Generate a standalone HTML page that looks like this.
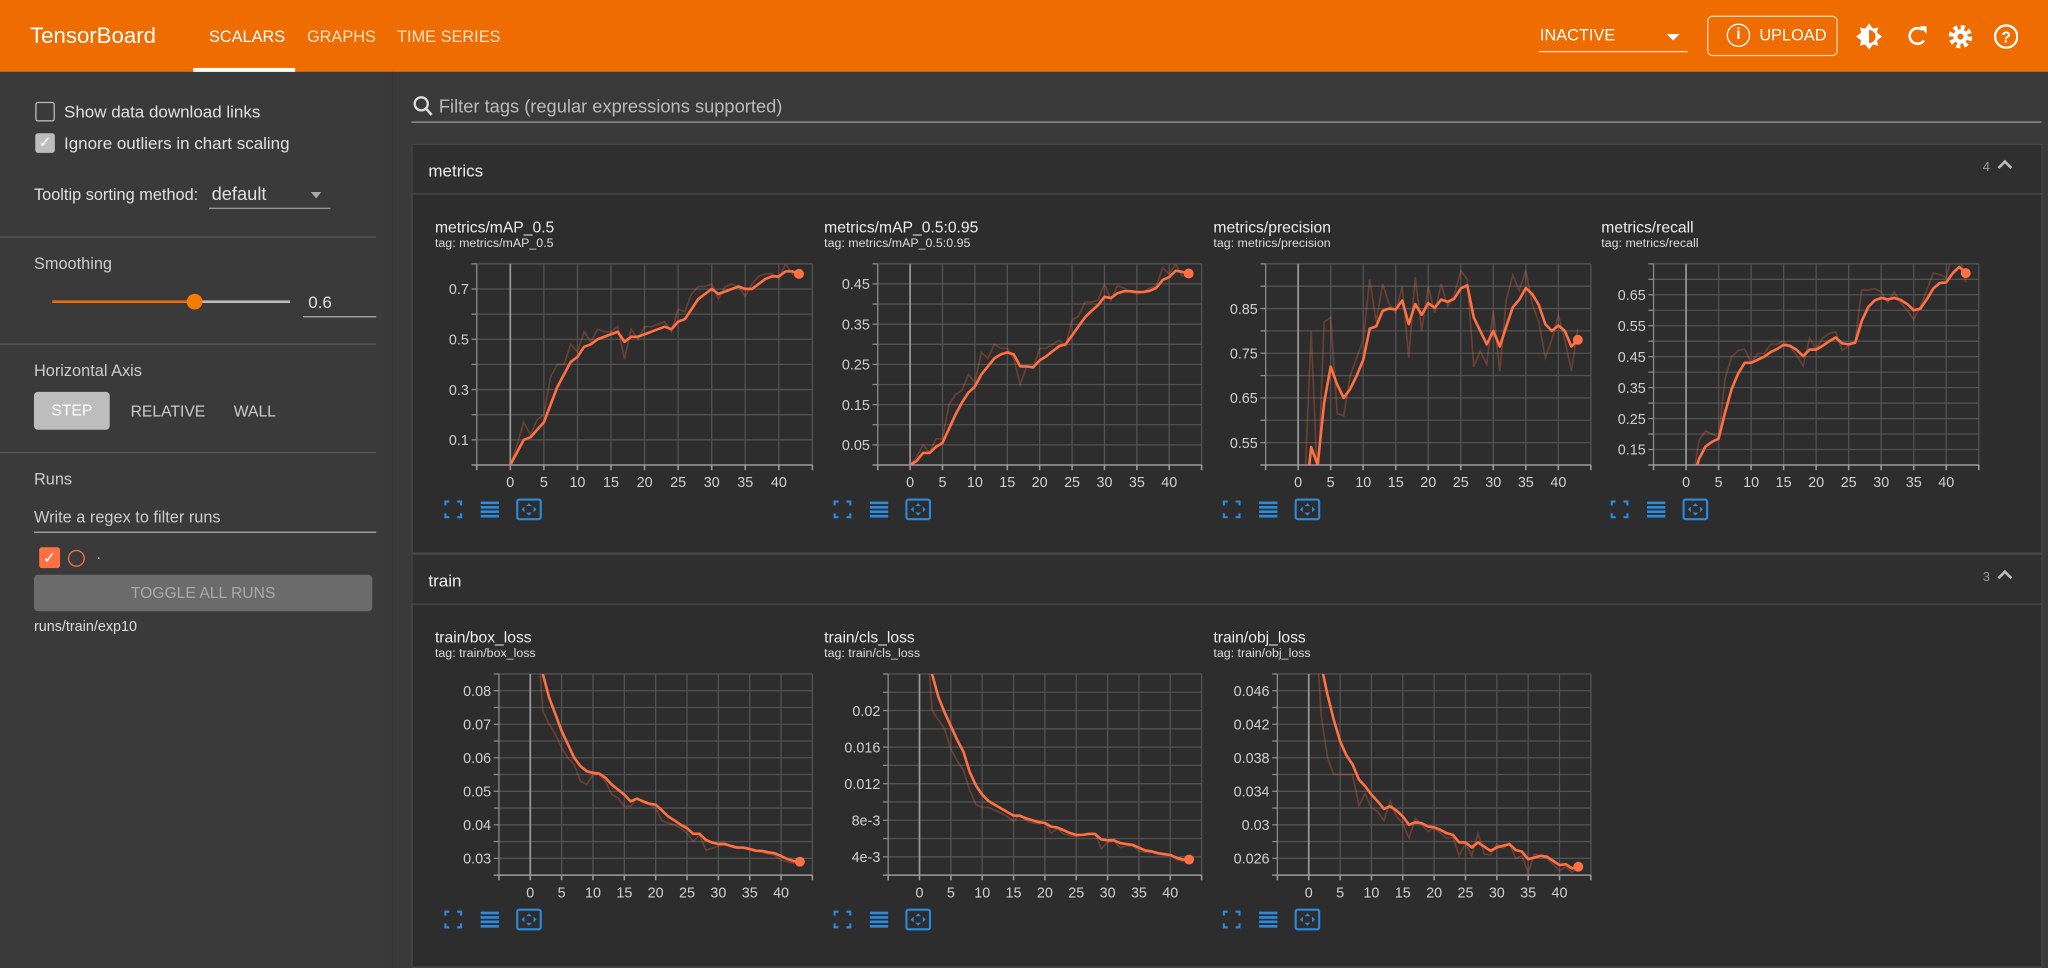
<!DOCTYPE html>
<html><head><meta charset="utf-8">
<style>
*{box-sizing:border-box;margin:0;padding:0}
html,body{width:2048px;height:968px;overflow:hidden;background:#3a3a3a;font-family:"Liberation Sans",sans-serif}
#wrap{position:absolute;left:0;top:0;width:1568px;height:741px;transform:scale(1.306122);transform-origin:0 0;background:#3a3a3a;color:#e6e6e6}
.a{position:absolute;white-space:nowrap}
.hdr{left:0;top:0;width:1568px;height:55px;background:#ef6c00}
.tab{font-size:12.5px;color:#ffe0c8;top:21px}
.sb{font-size:13px;color:#e0e0e0}
.div{height:1px;background:#555;left:0;width:288px}
.card{border:1px solid #4a4a4a;background:#2d2d2d}
.ch{background:#2f2f2f;border:1px solid #444}
.ttl{font-size:12px;color:#eee}
.tag{font-size:9.5px;color:#ddd}
</style></head><body>
<div id="wrap">
<div class="a hdr"></div>
<div class="a" style="left:23px;top:18px;font-size:17px;color:#fff">TensorBoard</div>
<div class="a tab" style="left:160px;color:#fff">SCALARS</div>
<div class="a" style="left:148px;top:52px;width:78px;height:3px;background:#fff"></div>
<div class="a tab" style="left:235px">GRAPHS</div>
<div class="a tab" style="left:304px">TIME SERIES</div>
<div class="a" style="left:1179px;top:20px;font-size:12.5px;color:#fff">INACTIVE</div>
<div class="a" style="left:1276px;top:26px;width:0;height:0;border-left:5px solid transparent;border-right:5px solid transparent;border-top:5px solid #fff"></div>
<div class="a" style="left:1178px;top:39px;width:114px;height:1px;background:#ffd9b8"></div>
<div class="a" style="left:1307px;top:12px;width:100px;height:31px;border:1px solid #ffd1ad;border-radius:4px"></div>
<div class="a" style="left:1322px;top:18px;width:18px;height:18px;border:1.6px solid #fff;border-radius:50%;color:#fff;font-size:12px;text-align:center;line-height:15px;font-weight:bold">i</div>
<div class="a" style="left:1347px;top:20px;font-size:12.5px;color:#fff">UPLOAD</div>
<svg class="a" style="left:1420px;top:16px" width="125" height="24">
<g><circle cx="11" cy="12" r="7" fill="#fff"/><polygon points="11,2 14,6 18,5 17,9 21,12 17,15 18,19 14,18 11,22 8,18 4,19 5,15 1,12 5,9 4,5 8,6" fill="#fff"/><path d="M11 7 A5 5 0 0 1 11 17Z" fill="#ef6c00"/></g>
<g><path d="M52 7 A6 6 0 1 0 53 15" fill="none" stroke="#fff" stroke-width="2"/><polygon points="50,4 55,4 55,10" fill="#fff"/></g>
<g><circle cx="81" cy="12" r="7" fill="none" stroke="#fff" stroke-width="4" stroke-dasharray="3 2.5"/><circle cx="81" cy="12" r="5.5" fill="#fff"/><circle cx="81" cy="12" r="2.3" fill="#ef6c00"/></g>
<g><circle cx="116" cy="12" r="8.5" fill="none" stroke="#fff" stroke-width="1.8"/><text x="116" y="16.5" font-size="12" fill="#fff" text-anchor="middle" font-family="Liberation Sans" font-weight="bold">?</text></g>
</svg>

<!-- sidebar -->
<div class="a" style="left:300px;top:55px;width:1px;height:686px;background:#333"></div>
<div class="a" style="left:27px;top:78px;width:15px;height:15px;border:1.5px solid #bbb;border-radius:2px"></div>
<div class="a sb" style="left:49px;top:78px">Show data download links</div>
<div class="a" style="left:27px;top:102px;width:15px;height:15px;background:#bdbdbd;border-radius:2px;color:#fff;font-size:12px;text-align:center;line-height:15px">✓</div>
<div class="a sb" style="left:49px;top:102px">Ignore outliers in chart scaling</div>
<div class="a sb" style="left:26px;top:142px;font-size:12.5px">Tooltip sorting method:</div>
<div class="a sb" style="left:162px;top:140px;font-size:14px">default</div>
<div class="a" style="left:238px;top:147px;width:0;height:0;border-left:4.5px solid transparent;border-right:4.5px solid transparent;border-top:5px solid #aaa"></div>
<div class="a" style="left:160px;top:159px;width:93px;height:1px;background:#999"></div>
<div class="a div" style="top:181px"></div>
<div class="a sb" style="left:26px;top:195px;font-size:12.5px;color:#ccc">Smoothing</div>
<div class="a" style="left:40px;top:230px;width:109px;height:2px;background:#ef6c00"></div>
<div class="a" style="left:149px;top:230px;width:73px;height:2px;background:#bbb"></div>
<div class="a" style="left:143px;top:225px;width:12px;height:12px;border-radius:50%;background:#f57c00"></div>
<div class="a sb" style="left:236px;top:224px">0.6</div>
<div class="a" style="left:232px;top:242px;width:56px;height:1px;background:#aaa"></div>
<div class="a div" style="top:263px"></div>
<div class="a sb" style="left:26px;top:277px;font-size:12.5px;color:#ccc">Horizontal Axis</div>
<div class="a" style="left:26px;top:300px;width:58px;height:29px;background:#bdbdbd;border-radius:3px;color:#fff;font-size:12px;text-align:center;line-height:29px">STEP</div>
<div class="a sb" style="left:100px;top:308px;font-size:12px;color:#ccc">RELATIVE</div>
<div class="a sb" style="left:179px;top:308px;font-size:12px;color:#ccc">WALL</div>
<div class="a div" style="top:346px"></div>
<div class="a sb" style="left:26px;top:360px;font-size:12.5px;color:#ccc">Runs</div>
<div class="a sb" style="left:26px;top:389px;font-size:12.5px;color:#ccc">Write a regex to filter runs</div>
<div class="a" style="left:26px;top:407px;width:262px;height:1px;background:#aaa"></div>
<div class="a" style="left:30px;top:419px;width:16px;height:16px;background:#ff7043;border-radius:2px;color:#fff;font-size:12px;text-align:center;line-height:16px">✓</div>
<div class="a" style="left:52px;top:421px;width:13px;height:13px;border:1.5px solid #ff7043;border-radius:50%"></div>
<div class="a sb" style="left:74px;top:419px;font-size:11px">.</div>
<div class="a" style="left:26px;top:440px;width:259px;height:28px;background:#6b6b6b;border-radius:3px;color:#aaa;font-size:12px;text-align:center;line-height:28px">TOGGLE ALL RUNS</div>
<div class="a sb" style="left:26px;top:474px;font-size:11px;color:#ddd">runs/train/exp10</div>

<!-- main -->
<svg class="a" style="left:316px;top:73px" width="16" height="18"><circle cx="6.5" cy="6.5" r="5" fill="none" stroke="#ddd" stroke-width="1.8"/><line x1="10" y1="10" x2="14.5" y2="15" stroke="#ddd" stroke-width="2"/></svg>
<div class="a" style="left:336px;top:73px;font-size:14px;color:#bbb">Filter tags (regular expressions supported)</div>
<div class="a" style="left:315px;top:93px;width:1248px;height:1px;background:#9a9a9a"></div>

<div class="a ch" style="left:315px;top:110px;width:1249px;height:39px"></div>
<div class="a" style="left:328px;top:123px;font-size:13px;color:#eee">metrics</div>
<div class="a" style="left:1518px;top:123px;font-size:10px;color:#999">4</div>
<div class="a" style="left:1531px;top:124px;width:8px;height:8px;border-left:2px solid #bbb;border-top:2px solid #bbb;transform:rotate(45deg)"></div>
<div class="a card" style="left:315px;top:148px;width:1249px;height:276px"></div>

<div class="a ch" style="left:315px;top:424px;width:1249px;height:39px"></div>
<div class="a" style="left:328px;top:437px;font-size:13px;color:#eee">train</div>
<div class="a" style="left:1518px;top:437px;font-size:10px;color:#999">3</div>
<div class="a" style="left:1531px;top:438px;width:8px;height:8px;border-left:2px solid #bbb;border-top:2px solid #bbb;transform:rotate(45deg)"></div>
<div class="a card" style="left:315px;top:462px;width:1249px;height:279px"></div>

<div class="a ttl" style="left:333px;top:167px">metrics/mAP_0.5</div>
<div class="a tag" style="left:333px;top:181px">tag: metrics/mAP_0.5</div>
<div class="a ttl" style="left:631px;top:167px">metrics/mAP_0.5:0.95</div>
<div class="a tag" style="left:631px;top:181px">tag: metrics/mAP_0.5:0.95</div>
<div class="a ttl" style="left:929px;top:167px">metrics/precision</div>
<div class="a tag" style="left:929px;top:181px">tag: metrics/precision</div>
<div class="a ttl" style="left:1226px;top:167px">metrics/recall</div>
<div class="a tag" style="left:1226px;top:181px">tag: metrics/recall</div>
<div class="a ttl" style="left:333px;top:481px">train/box_loss</div>
<div class="a tag" style="left:333px;top:495px">tag: train/box_loss</div>
<div class="a ttl" style="left:631px;top:481px">train/cls_loss</div>
<div class="a tag" style="left:631px;top:495px">tag: train/cls_loss</div>
<div class="a ttl" style="left:929px;top:481px">train/obj_loss</div>
<div class="a tag" style="left:929px;top:495px">tag: train/obj_loss</div>

<svg id="plots" class="a" style="left:0;top:0" width="1568" height="741"></svg>
</div>
<script>
const steps = [0,1,2,3,4,5,6,7,8,9,10,11,12,13,14,15,16,17,18,19,20,21,22,23,24,25,26,27,28,29,30,31,32,33,34,35,36,37,38,39,40,41,42,43];
const xTicks = [0,5,10,15,20,25,30,35,40];

const mapSmooth = [0,0.05,0.1,0.11,0.14,0.17,0.24,0.31,0.36,0.41,0.43,0.47,0.48,0.5,0.51,0.52,0.53,0.49,0.51,0.51,0.52,0.53,0.54,0.55,0.54,0.57,0.58,0.62,0.66,0.68,0.7,0.68,0.69,0.7,0.71,0.7,0.7,0.72,0.74,0.75,0.75,0.77,0.77,0.76];
const mapRaw = [0,0.08,0.17,0.12,0.18,0.2,0.35,0.4,0.4,0.48,0.45,0.53,0.49,0.54,0.53,0.53,0.55,0.42,0.54,0.5,0.55,0.55,0.56,0.57,0.53,0.62,0.61,0.68,0.71,0.71,0.72,0.66,0.71,0.72,0.71,0.67,0.72,0.75,0.76,0.76,0.74,0.8,0.76,0.74];
const mapTicks = [0.1,0.3,0.5,0.7];

const map95Smooth = [0,0.01,0.03,0.03,0.045,0.055,0.09,0.125,0.155,0.18,0.195,0.225,0.245,0.265,0.275,0.28,0.275,0.245,0.245,0.243,0.26,0.27,0.283,0.295,0.3,0.322,0.345,0.367,0.383,0.397,0.418,0.415,0.427,0.432,0.432,0.43,0.43,0.433,0.44,0.46,0.467,0.483,0.48,0.476];
const map95Raw = [0,0.02,0.05,0.03,0.065,0.065,0.15,0.175,0.185,0.225,0.205,0.28,0.265,0.3,0.29,0.29,0.265,0.2,0.245,0.24,0.29,0.29,0.3,0.31,0.295,0.36,0.37,0.405,0.405,0.41,0.45,0.41,0.445,0.44,0.43,0.425,0.43,0.44,0.445,0.49,0.475,0.5,0.47,0.47];
const map95Ticks = [0.05,0.15,0.25,0.35,0.45];

const precSmooth = [0.3,0.4,0.54,0.5,0.64,0.72,0.68,0.65,0.67,0.7,0.735,0.805,0.81,0.845,0.85,0.848,0.868,0.815,0.86,0.836,0.862,0.852,0.87,0.865,0.872,0.895,0.902,0.83,0.8,0.77,0.8,0.765,0.81,0.853,0.87,0.896,0.882,0.858,0.815,0.8,0.812,0.8,0.765,0.78];
const precRaw = [0.3,0.45,0.8,0.45,0.82,0.83,0.615,0.61,0.7,0.74,0.78,0.915,0.82,0.905,0.86,0.84,0.9,0.74,0.92,0.8,0.9,0.84,0.905,0.855,0.88,0.935,0.915,0.72,0.755,0.725,0.845,0.71,0.87,0.925,0.89,0.935,0.86,0.82,0.74,0.78,0.835,0.78,0.71,0.805];
const precTicks = [0.55,0.65,0.75,0.85];

const recSmooth = [0,0.05,0.12,0.16,0.175,0.185,0.27,0.345,0.395,0.43,0.43,0.44,0.45,0.465,0.475,0.488,0.485,0.472,0.452,0.473,0.473,0.485,0.5,0.512,0.493,0.49,0.495,0.565,0.61,0.632,0.64,0.635,0.64,0.633,0.62,0.6,0.605,0.635,0.67,0.688,0.69,0.72,0.74,0.72];
const recRaw = [0,0.05,0.18,0.21,0.2,0.19,0.38,0.45,0.47,0.475,0.43,0.46,0.46,0.49,0.49,0.5,0.48,0.455,0.42,0.51,0.475,0.51,0.525,0.53,0.47,0.485,0.5,0.665,0.665,0.67,0.66,0.625,0.66,0.625,0.6,0.57,0.61,0.665,0.72,0.715,0.705,0.79,0.78,0.69];
const recTicks = [0.15,0.25,0.35,0.45,0.55,0.65];

const boxSmooth = [0.15,0.11,0.085,0.078,0.073,0.068,0.064,0.06,0.0575,0.056,0.0555,0.0553,0.054,0.052,0.0505,0.049,0.047,0.0478,0.047,0.0463,0.046,0.0443,0.0425,0.0413,0.04,0.039,0.0373,0.0373,0.0355,0.0347,0.0343,0.0343,0.0337,0.0332,0.0332,0.0328,0.0323,0.0322,0.0318,0.0315,0.0307,0.0298,0.0292,0.029];
const boxRaw = [0.2,0.1,0.074,0.07,0.067,0.063,0.06,0.058,0.053,0.052,0.055,0.055,0.053,0.049,0.048,0.0455,0.0455,0.048,0.0465,0.046,0.045,0.0412,0.0405,0.04,0.039,0.0375,0.035,0.037,0.0325,0.033,0.0337,0.034,0.0335,0.033,0.0332,0.0325,0.032,0.0318,0.0313,0.031,0.0295,0.029,0.0285,0.029];
const boxTicks = [0.03,0.04,0.05,0.06,0.07,0.08];

const clsSmooth = [0.05,0.035,0.024,0.0215,0.0198,0.0183,0.0168,0.0155,0.0133,0.0118,0.0108,0.0101,0.0097,0.0093,0.0089,0.0085,0.0085,0.0082,0.008,0.0078,0.0077,0.0073,0.0072,0.0069,0.0066,0.0064,0.0064,0.0065,0.0065,0.0059,0.0058,0.0058,0.0055,0.0054,0.0053,0.005,0.0047,0.0046,0.0044,0.0043,0.0042,0.0039,0.0037,0.0037];
const clsRaw = [0.05,0.03,0.02,0.019,0.018,0.0158,0.0145,0.0135,0.0113,0.0097,0.0094,0.0094,0.0091,0.0088,0.0084,0.0079,0.0086,0.008,0.0077,0.0076,0.0077,0.0066,0.0071,0.0065,0.0063,0.0062,0.0064,0.0065,0.0065,0.0049,0.0056,0.0057,0.005,0.0052,0.0052,0.0046,0.0045,0.0045,0.0043,0.0042,0.0042,0.0037,0.0035,0.0037];
const clsTicks = [0.004,0.008,0.012,0.016,0.02];
const clsTickLabels = ["4e-3","8e-3","0.012","0.016","0.02"];

const objSmooth = [0.08,0.06,0.049,0.0455,0.0425,0.04,0.0383,0.0372,0.0354,0.0346,0.0336,0.0328,0.0319,0.0322,0.0317,0.031,0.03,0.0303,0.0302,0.0298,0.0297,0.0294,0.029,0.0288,0.0279,0.0279,0.0273,0.0279,0.0274,0.0269,0.0273,0.0275,0.0277,0.027,0.0268,0.0259,0.0261,0.0263,0.0262,0.0257,0.0252,0.0253,0.0248,0.025];
const objRaw = [0.08,0.055,0.043,0.038,0.036,0.036,0.036,0.036,0.0323,0.0337,0.032,0.0316,0.0305,0.0328,0.031,0.0302,0.0284,0.0308,0.03,0.0292,0.0296,0.029,0.0284,0.0285,0.0263,0.0278,0.0263,0.029,0.0265,0.0264,0.0277,0.0272,0.0278,0.026,0.0263,0.0243,0.0265,0.0263,0.026,0.0253,0.0245,0.025,0.0243,0.025];
const objTicks = [0.026,0.03,0.034,0.038,0.042,0.046];

const NS='http://www.w3.org/2000/svg';
const svg=document.getElementById('plots');
function mk(tag,attrs,parent){const e=document.createElementNS(NS,tag);for(const k in attrs)e.setAttribute(k,attrs[k]);(parent||svg).appendChild(e);return e;}

function chart(id,cx,lOff,isTrain,smooth,raw,y0,y1,gridStep,ticks,labels){
  const L=cx+lOff, R=cx+289, T=isTrain?516:202, B=isTrain?670:356;
  const xs=v=>L+(v+5)/50*(R-L);
  const ys=v=>B-(v-y0)/(y1-y0)*(B-T);
  const g=mk('g',{});
  
  
  const cp=mk('clipPath',{id:'cp-'+id},g);
  mk('rect',{x:L,y:T,width:R-L,height:B-T},cp);
  const n=Math.round((y1-y0)/gridStep);
  for(let i=0;i<=n;i++){const v=y0+i*gridStep;const y=ys(v);if(y<T-0.5||y>B+0.5)continue;
    const ln=mk('line',{x1:L,x2:R,y1:y,y2:y,stroke:'#525252','stroke-width':1},g);
    
    }
  xTicks.concat([45]).forEach(v=>{const x=xs(v);
    const ln=mk('line',{x1:x,x2:x,y1:T,y2:B,stroke:v===0?'#9a9a9a':'#525252','stroke-width':v===0?1.3:1},g);
    
    });
  const ya=mk('line',{x1:L,x2:L,y1:T,y2:B,stroke:'#8a8a8a','stroke-width':1},g);
  
  
  const xa=mk('line',{x1:L-4,x2:R,y1:B,y2:B,stroke:'#9a9a9a','stroke-width':1.2},g);
  
  
  for(let i=0;i<=n;i++){const y=ys(y0+i*gridStep);if(y<T-0.5||y>B+0.5)continue;mk('line',{x1:L-4,x2:L,y1:y,y2:y,stroke:'#8a8a8a'},g);}
  [-5].concat(xTicks).concat([45]).forEach(v=>{mk('line',{x1:xs(v),x2:xs(v),y1:B,y2:B+4,stroke:'#9a9a9a','stroke-width':1.2},g);});
  ticks.forEach((v,i)=>{const t=mk('text',{x:L-6,y:ys(v)+4,'font-size':11,fill:'#cfcfcf','text-anchor':'end','font-family':'Liberation Sans'},g);
    t.textContent=labels?labels[i]:String(v);
    
    });
  xTicks.forEach(v=>{const t=mk('text',{x:xs(v),y:B+17,'font-size':11,fill:'#cfcfcf','text-anchor':'middle','font-family':'Liberation Sans'},g);
    t.textContent=String(v);
    
    });
  const pg=mk('g',{'clip-path':'url(#cp-'+id+')'},g);
  const rp=mk('polyline',{points:steps.map((s,i)=>xs(s)+','+ys(raw[i])).join(' '),fill:'none',stroke:'rgba(255,112,67,0.28)','stroke-width':1.3},pg);
  
  
  const sp=mk('polyline',{points:steps.map((s,i)=>xs(s)+','+ys(smooth[i])).join(' '),fill:'none',stroke:'#ff7043','stroke-width':2,'stroke-linejoin':'round'},pg);
  
  
  const last=steps.length-1;
  const dot=mk('circle',{cx:xs(steps[last]),cy:ys(smooth[last]),r:3.8,fill:'#ff7043'},g);
  
  
  const iy=B+34, ix=cx+14;
  const ic=mk('g',{stroke:'#2b8be0',fill:'none','stroke-width':1.6},g);
  
  
  mk('path',{d:`M${ix-6} ${iy-3}v-3h3 M${ix+3} ${iy-6}h3v3 M${ix+6} ${iy+3}v3h-3 M${ix-3} ${iy+6}h-3v-3`},ic);
  for(let k=0;k<4;k++)mk('line',{x1:ix+21,x2:ix+35,y1:iy-5+k*3.4,y2:iy-5+k*3.4,'stroke-width':2},ic);
  mk('rect',{x:ix+49,y:iy-7.5,width:18,height:15,rx:1.5},ic);
  mk('path',{d:`M${ix+58} ${iy-4}l-1 1h2z M${ix+58} ${iy+4}l-1 -1h2z M${ix+53} ${iy}l1 -1v2z M${ix+63} ${iy}l-1 -1v2z`,'stroke-width':1},ic);
}
chart('map50',333,32,false,mapSmooth,mapRaw,0,0.8,0.1,mapTicks);
chart('map5095',631,41,false,map95Smooth,map95Raw,0,0.5,0.05,map95Ticks);
chart('precision',929,40,false,precSmooth,precRaw,0.5,0.95,0.05,precTicks);
chart('recall',1226,40,false,recSmooth,recRaw,0.1,0.75,0.05,recTicks);
chart('box-loss',333,49,true,boxSmooth,boxRaw,0.025,0.085,0.005,boxTicks);
chart('cls-loss',631,49,true,clsSmooth,clsRaw,0.002,0.024,0.002,clsTicks,clsTickLabels);
chart('obj-loss',929,49,true,objSmooth,objRaw,0.024,0.048,0.002,objTicks);
</script>
</body></html>
